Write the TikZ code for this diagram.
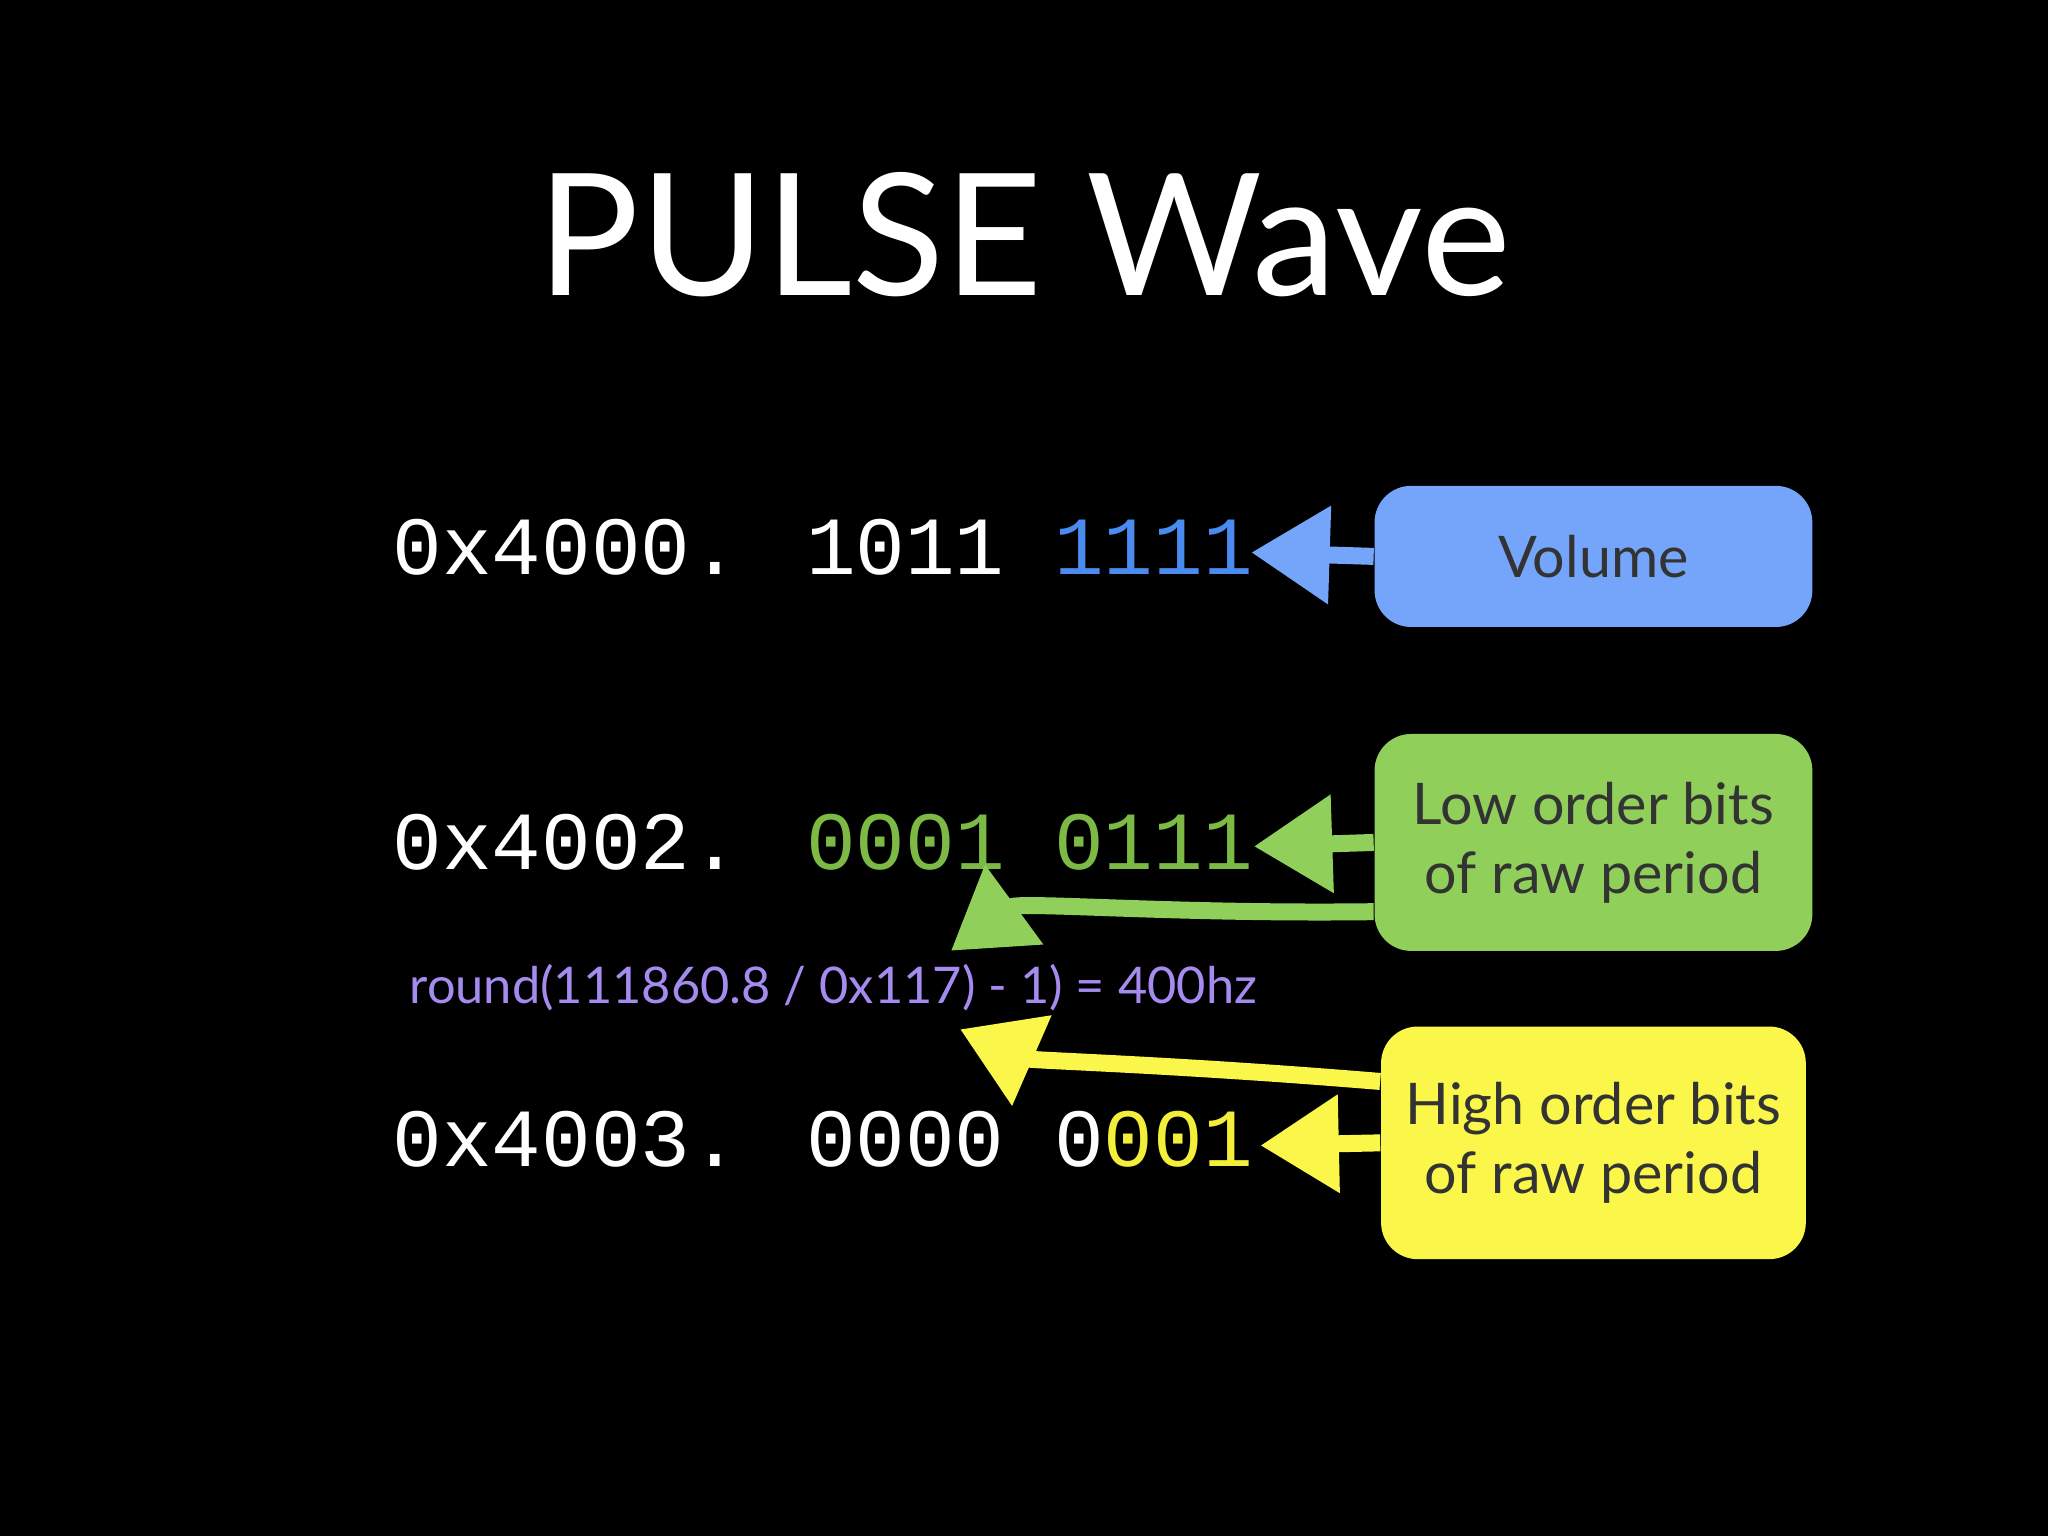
\documentclass[tikz,border=0pt]{standalone}
\usepackage{fontspec}
\setmainfont{Lato}
\newfontfamily\codefont{Liberation Mono}
\usetikzlibrary{arrows.meta}
\definecolor{vblue}{HTML}{75A5FA}
\definecolor{cblue}{HTML}{4A8BEF}
\definecolor{vgreen}{HTML}{8FCF5A}
\definecolor{cgreen}{HTML}{7DBA45}
\definecolor{vyellow}{HTML}{FAF74A}
\definecolor{cyel}{HTML}{F2EE3A}
\definecolor{purp}{HTML}{A58BF0}
\begin{document}
\begin{tikzpicture}[x=0.01cm,y=-0.01cm,
  code/.style={anchor=base west,inner sep=0,text=white,font=\codefont\fontsize{18}{20}\selectfont},
  lbl/.style={rounded corners=0.28cm,align=center,text=black!80,font=\fontsize{12.5}{15}\selectfont},
  arr/.style={line width=0.13cm,-{Triangle[length=0.6cm,width=0.72cm]}}]
\fill[black] (0,0) rectangle (1568,1176);
\useasboundingbox (0,0) rectangle (1568,1176);
\node[text=white,font=\fontsize{37}{40}\selectfont] (title) at (784,180) {PULSE Wave};
\node[code] (l1) at (300,440) {0x4000. 1011 \textcolor{cblue}{1111}};
\node[code] (l2) at (300,666) {0x4002. \textcolor{cgreen}{0001 0111}};
\node[code] (l3) at (300,893) {0x4003. 0000 0\textcolor{cyel}{001}};
\node[anchor=base west,inner sep=0,text=purp,font=\fontsize{11}{13}\selectfont] (f) at (313,768) {round(111860.8 / 0x117) - 1) = 400hz};
\node[lbl,fill=vblue,minimum width=3.35cm,minimum height=1.08cm] (vol) at (1220,426) {Volume};
\node[lbl,fill=vgreen,minimum width=3.35cm,minimum height=1.66cm] (low) at (1220,645) {Low order bits\\of raw period};
\node[lbl,fill=vyellow,minimum width=3.25cm,minimum height=1.78cm] (high) at (1220,875) {High order bits\\of raw period};
\coordinate (a1) at (958,423);
\coordinate (a2) at (960,648);
\coordinate (a3) at (965,877);
\coordinate (c2) at (728,728);
\coordinate (c3) at (735,788);
\draw[arr,vblue] (vol.west) -- (a1);
\draw[arr,vgreen] (low.west) -- (a2);
\draw[arr,vyellow] (high.west) -- (a3);
\draw[arr,vgreen] (low.west|-0,698) .. controls (900,700) and (780,690) .. (c2);
\draw[arr,vyellow] (high.west|-0,828) .. controls (900,815) and (790,812) .. (c3);
\end{tikzpicture}
\end{document}
